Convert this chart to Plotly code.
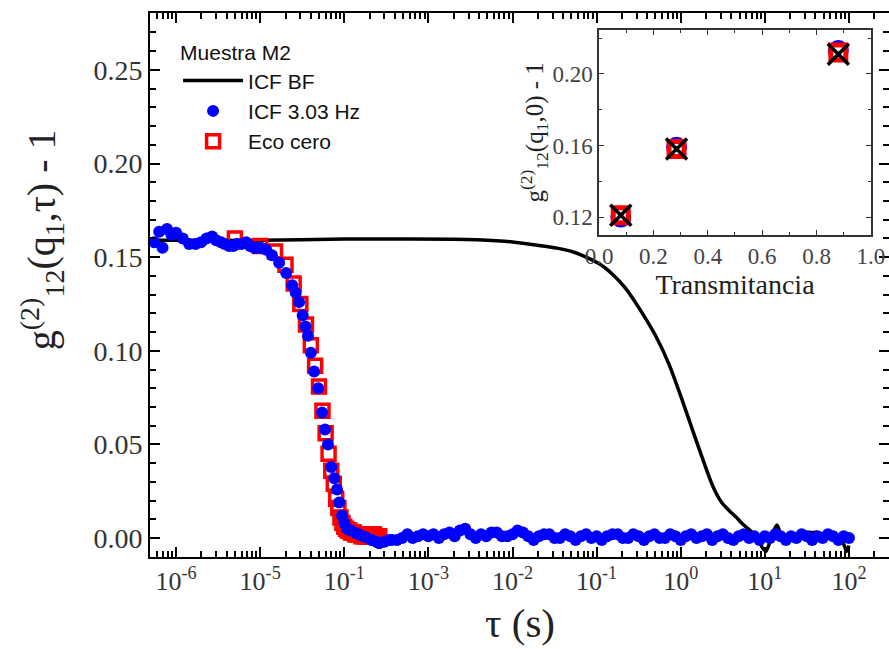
import plotly.graph_objects as go

# ---------------- data ----------------
# ICF BF (black line)
bf_tau = [6e-7, 1e-6, 1e-5, 1e-4, 4.5e-4, 2.8e-3, 8e-3, 0.017, 0.035, 0.055, 0.075, 0.11, 0.153,
          0.22, 0.32, 0.51, 0.73, 1.04, 1.52, 2.18, 2.6, 3.1, 3.8, 4.56, 5.3, 6.2, 7.1, 8.2, 9.3,
          10.3, 11.3, 12.5, 13.9, 15.2, 17.0, 19.5, 22.0, 25.0, 28.0, 33.0, 37.0, 42.0, 49.0,
          57.0, 65.0, 75.0, 86.0, 94.0, 100.0]
bf_g = [0.159, 0.159, 0.159, 0.1597, 0.1597, 0.1595, 0.1585, 0.1568, 0.1547, 0.1525, 0.150,
        0.1462, 0.141, 0.1335, 0.1228, 0.1075, 0.0925, 0.0737, 0.0523, 0.0326, 0.0245, 0.0187,
        0.0145, 0.0112, 0.008, 0.0053, 0.003, 0.000, -0.005, -0.007, -0.003, 0.003, 0.007,
        0.003, -0.001, 0.001, -0.001, 0.002, 0.000, 0.003, 0.003, 0.003, 0.001, 0.002,
        -0.001, 0.001, -0.003, -0.007, -0.004]

# ICF 3.03 Hz (blue dots)
hz_tau = [5.5e-7, 6.3e-7, 6.9e-7, 7.8e-7, 8.8e-7, 1.0e-6, 1.2e-6, 1.43e-6, 1.7e-6, 1.98e-6,
          2.3e-6, 2.68e-6, 3.0e-6, 3.42e-6, 3.8e-6, 4.27e-6, 4.8e-6, 5.3e-6, 6.0e-6, 6.8e-6,
          7.6e-6, 8.45e-6, 9.3e-6, 1.02e-5, 1.18e-5, 1.38e-5, 1.68e-5, 2.04e-5, 2.4e-5, 2.65e-5,
          2.9e-5, 3.2e-5, 3.45e-5, 3.7e-5, 4.0e-5, 4.38e-5, 4.9e-5, 5.45e-5, 5.9e-5, 6.4e-5,
          7.0e-5, 7.6e-5, 8.2e-5, 8.7e-5, 9.4e-5, 1.0e-4, 1.08e-4, 1.2e-4, 1.38e-4, 1.55e-4,
          1.8e-4, 2.1e-4, 2.4e-4, 2.6e-4, 3.0e-4, 3.4e-4, 3.7e-4,
          4.22e-4, 4.87e-4, 5.62e-4, 6.49e-4, 7.50e-4, 8.66e-4,
          1.00e-3, 1.15e-3, 1.33e-3, 1.54e-3, 1.78e-3, 2.05e-3, 2.37e-3, 2.74e-3,
          3.16e-3, 3.65e-3, 4.22e-3, 4.87e-3, 5.62e-3, 6.49e-3, 7.50e-3, 8.66e-3,
          1.00e-2, 1.15e-2, 1.33e-2, 1.54e-2, 1.78e-2, 2.05e-2, 2.37e-2, 2.74e-2,
          3.16e-2, 3.65e-2, 4.22e-2, 4.87e-2, 5.62e-2, 6.49e-2, 7.50e-2, 8.66e-2,
          0.100, 0.115, 0.133, 0.154, 0.178, 0.205, 0.237, 0.274,
          0.316, 0.365, 0.422, 0.487, 0.562, 0.649, 0.750, 0.866,
          1.00, 1.15, 1.33, 1.54, 1.78, 2.05, 2.37, 2.74,
          3.16, 3.65, 4.22, 4.87, 5.62, 6.49, 7.50, 8.66,
          10.0, 11.5, 13.3, 15.4, 17.8, 20.5, 23.7, 27.4,
          31.6, 36.5, 42.2, 48.7, 56.2, 64.9, 75.0, 86.6, 100.0]
hz_g = [0.158, 0.1636, 0.155, 0.165, 0.162, 0.163, 0.160, 0.157, 0.157, 0.158,
        0.160, 0.161, 0.159, 0.158, 0.157, 0.156, 0.156, 0.157, 0.157, 0.158,
        0.156, 0.155, 0.155, 0.155, 0.154, 0.151, 0.147, 0.1415, 0.135, 0.131,
        0.126, 0.119, 0.113, 0.108, 0.099, 0.089, 0.080, 0.067, 0.058, 0.050,
        0.038, 0.032, 0.026, 0.019, 0.012, 0.008, 0.005, 0.004, 0.0027, 0.0015,
        0.0005, -0.001, -0.002, -0.0027, -0.002, -0.001, -0.001,
        -0.001, 0.000, 0.002, 0.000, 0.001, 0.002,
        0.001, 0.002, 0.000, 0.002, 0.003, 0.001, 0.004, 0.005,
        0.002, 0.000, 0.002, 0.001, 0.003, 0.003, 0.001, 0.001,
        0.002, 0.004, 0.003, 0.001, -0.001, 0.001, 0.002, 0.002,
        0.000, 0.000, 0.002, 0.001, -0.001, 0.001, 0.002, 0.000,
        0.001, -0.001, 0.001, 0.002, 0.002, 0.000, 0.000, 0.002,
        0.001, -0.001, 0.001, 0.002, 0.000, 0.000, 0.002, 0.001,
        -0.001, 0.001, 0.002, 0.000, 0.001, 0.002, -0.001, 0.001,
        0.002, 0.000, -0.001, 0.001, 0.002, 0.000, 0.001, -0.001,
        0.001, 0.000, 0.002, 0.001, -0.001, 0.001, 0.000, 0.002,
        0.001, -0.001, 0.001, 0.000, 0.002, 0.001, -0.001, 0.001, 0.000]

# Eco cero (red open squares)
eco_tau = [5e-6, 1.0e-5, 1.5e-5, 2.0e-5, 2.5e-5, 3.0e-5, 3.5e-5, 4.0e-5, 4.5e-5, 5.0e-5,
           5.5e-5, 6.0e-5, 6.5e-5, 7.0e-5, 7.5e-5, 8.0e-5, 8.5e-5, 9.0e-5, 9.5e-5, 1.0e-4,
           1.05e-4, 1.1e-4, 1.15e-4, 1.2e-4, 1.25e-4, 1.3e-4, 1.35e-4, 1.4e-4, 1.45e-4, 1.5e-4,
           1.55e-4, 1.6e-4, 1.65e-4, 1.7e-4, 1.75e-4, 1.8e-4, 1.85e-4, 1.9e-4, 1.95e-4, 2.0e-4,
           2.05e-4, 2.1e-4, 2.15e-4, 2.2e-4, 2.25e-4, 2.3e-4, 2.35e-4, 2.4e-4, 2.45e-4, 2.5e-4,
           2.55e-4, 2.6e-4]
eco_g = [0.160, 0.156, 0.153, 0.146, 0.136, 0.125, 0.114, 0.103, 0.092, 0.081,
         0.068, 0.056, 0.045, 0.036, 0.029, 0.021, 0.016, 0.011, 0.008, 0.006,
         0.005, 0.004, 0.004, 0.003, 0.003, 0.003, 0.002, 0.002, 0.002, 0.002,
         0.002, 0.001, 0.002, 0.001, 0.001, 0.002, 0.001, 0.001, 0.001, 0.002,
         0.001, 0.001, 0.001, 0.001, 0.002, 0.001, 0.001, 0.001, 0.001, 0.001,
         0.001, 0.001]

# inset
trans = [0.08, 0.285, 0.88]
inset_blue = [0.120, 0.159, 0.213]
inset_red = [0.121, 0.158, 0.212]
inset_black = [0.121, 0.158, 0.211]

x_tickvals = [1e-6, 1e-5, 1e-4, 1e-3, 1e-2, 1e-1, 1e0, 1e1, 1e2]
x_ticktext = ["10<sup>-6</sup>", "10<sup>-5</sup>", "10<sup>-1</sup>", "10<sup>-3</sup>",
              "10<sup>-2</sup>", "10<sup>-1</sup>", "10<sup>0</sup>", "10<sup>1</sup>",
              "10<sup>2</sup>"]
y_tickvals = [0.0, 0.05, 0.10, 0.15, 0.20, 0.25]
y_ticktext = ["0.00", "0.05", "0.10", "0.15", "0.20", "0.25"]

# ---------------- figure ----------------
SERIF = "Liberation Serif, Times New Roman, serif"
SANS = "Liberation Sans, Arial, sans-serif"
XR = [-6.31, 2.476]
YR = [-0.0101, 0.2804]

fig = go.Figure()

fig.add_trace(go.Scatter(x=bf_tau, y=bf_g, mode="lines", name="ICF BF", legendrank=1,
                         line=dict(color="black", width=3.5, shape="spline", smoothing=0.7)))
fig.add_trace(go.Scatter(x=eco_tau, y=eco_g, mode="markers", name="Eco cero", legendrank=3,
                         marker=dict(symbol="square-open", size=13, color="#ff0000",
                                     line=dict(width=3.5, color="#ff0000"))))
fig.add_trace(go.Scatter(x=hz_tau, y=hz_g, mode="markers", name="ICF 3.03 Hz", legendrank=2,
                         marker=dict(symbol="circle", size=12, color="#0000ff")))

# minor-tick carrier (no visible data)
fig.add_trace(go.Scatter(x=[1e-6], y=[None], xaxis="x3", yaxis="y3", mode="markers",
                         showlegend=False, hoverinfo="skip", marker=dict(opacity=0)))

# inset traces
fig.add_trace(go.Scatter(x=trans, y=inset_blue, mode="markers", xaxis="x2", yaxis="y2",
                         showlegend=False,
                         marker=dict(symbol="circle-open", size=18, color="#0000ff",
                                     line=dict(width=3, color="#0000ff"))))
fig.add_trace(go.Scatter(x=trans, y=inset_red, mode="markers", xaxis="x2", yaxis="y2",
                         showlegend=False,
                         marker=dict(symbol="square-open", size=15, color="#ff0000",
                                     line=dict(width=5, color="#ff0000"))))
fig.add_trace(go.Scatter(x=trans, y=inset_black, mode="markers", xaxis="x2", yaxis="y2",
                         showlegend=False,
                         marker=dict(symbol="x-thin-open", size=21, color="black",
                                     line=dict(width=3.5, color="black"))))
fig.add_trace(go.Scatter(x=trans, y=inset_black, mode="markers", xaxis="x2", yaxis="y2",
                         showlegend=False,
                         marker=dict(symbol="square", size=5, color="black")))

minor_x = [m * 10.0 ** e for e in range(-7, 3) for m in range(2, 10)]
minor_y = [i / 100 for i in range(-1, 29) if i % 5 != 0]

fig.update_layout(
    width=889, height=649,
    margin=dict(l=150, r=0, t=13, b=92, autoexpand=False),
    paper_bgcolor="white", plot_bgcolor="white",
    font=dict(family=SERIF, color="#222"),
    xaxis=dict(type="log", range=XR, automargin=False,
               tickmode="array", tickvals=x_tickvals, ticktext=x_ticktext,
               tickfont=dict(size=26, family=SERIF, color="#333"),
               ticks="inside", ticklen=10, tickwidth=2, tickcolor="black",
               showline=True, linecolor="black", linewidth=2, mirror="allticks",
               showgrid=False, zeroline=False),
    yaxis=dict(range=YR, automargin=False, tickmode="array",
               tickvals=y_tickvals, ticktext=y_ticktext,
               tickfont=dict(size=28, family=SERIF, color="#333"),
               ticks="inside", ticklen=10, tickwidth=2, tickcolor="black",
               showline=True, linecolor="black", linewidth=2, mirror="allticks",
               showgrid=False, zeroline=False),
    xaxis3=dict(type="log", range=XR, overlaying="x", anchor="y", side="bottom",
                automargin=False, tickmode="array", tickvals=minor_x, showticklabels=False,
                ticks="inside", ticklen=6, tickwidth=1.8, tickcolor="black",
                showline=False, mirror="allticks", showgrid=False, zeroline=False),
    yaxis3=dict(range=YR, overlaying="y", anchor="x", side="left",
                automargin=False, tickmode="array", tickvals=minor_y, showticklabels=False,
                ticks="inside", ticklen=6, tickwidth=1.8, tickcolor="black",
                showline=False, mirror="allticks", showgrid=False, zeroline=False),
    xaxis2=dict(domain=[0.6076, 0.9756], anchor="y2", range=[0, 1], automargin=False,
                tickmode="array", tickvals=[0.0, 0.2, 0.4, 0.6, 0.8, 1.0],
                ticktext=["0.0", "0.2", "0.4", "0.6", "0.8", "1.0"],
                tickfont=dict(size=23, family=SERIF, color="#444"),
                ticks="inside", ticklen=5, tickwidth=1.2, tickcolor="#333",
                minor=dict(dtick=0.1, tick0=0, ticks="inside", ticklen=3, tickwidth=1,
                           tickcolor="#333"),
                showline=True, linecolor="#333", linewidth=1.5, mirror="allticks",
                showgrid=False, zeroline=False,
                title=dict(text="Transmitancia", font=dict(size=28, family=SERIF, color="#222"),
                           standoff=2)),
    yaxis2=dict(domain=[0.592, 0.969], anchor="x2", range=[0.11, 0.2246], automargin=False,
                tickmode="array", tickvals=[0.12, 0.16, 0.20],
                ticktext=["0.12", "0.16", "0.20"],
                tickfont=dict(size=23, family=SERIF, color="#444"),
                ticks="inside", ticklen=5, tickwidth=1.2, tickcolor="#333",
                minor=dict(dtick=0.02, tick0=0.0, ticks="inside", ticklen=3, tickwidth=1,
                           tickcolor="#333"),
                showline=True, linecolor="#333", linewidth=1.5, mirror="allticks",
                showgrid=False, zeroline=False,
                title=dict(text="g<sup>(2)</sup><sub>12</sub>(q<sub>1</sub>,0) - 1",
                           font=dict(size=25, family=SERIF, color="#222"), standoff=2)),
    legend=dict(x=0.038, y=0.963, xanchor="left", yanchor="top",
                bgcolor="rgba(0,0,0,0)", borderwidth=0,
                font=dict(family=SANS, size=21, color="#111"),
                title=dict(text="Muestra M2", font=dict(family=SANS, size=21, color="#111")),
                traceorder="normal", itemwidth=60, tracegroupgap=0),
    showlegend=True,
    annotations=[
        dict(text="g<sup>(2)</sup><sub>12</sub>(q<sub>1</sub>,τ) - 1", textangle=-90,
             xref="paper", yref="paper", x=-0.147, y=0.583, xanchor="center",
             yanchor="middle", showarrow=False,
             font=dict(size=40, family=SERIF, color="#222")),
        dict(text="τ (s)", xref="paper", yref="paper", x=0.5007, y=-0.121,
             xanchor="center", yanchor="middle", showarrow=False,
             font=dict(size=41, family=SERIF, color="#222")),
    ],
)

fig.write_html("out.html")
